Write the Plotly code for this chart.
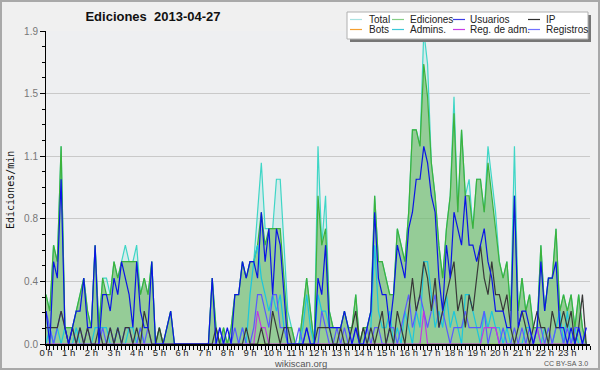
import plotly.graph_objects as go

# 10-minute buckets, values in edits/min (index i -> hour i/6)
hours = [f"{h} h" for h in range(24)]

total = [
    0.3, 0.2, 0.6, 0.5, 1.2, 0.1,
    0.1, 0.1, 0.2, 0.3, 0.4, 0.2,
    0.1, 0.6, 0.1, 0.4, 0.4, 0.3,
    0.5, 0.4, 0.5, 0.6, 0.5, 0.5,
    0.6, 0.3, 0.4, 0.3, 0.5, 0.0,
    0.1, 0.0, 0.1, 0.2, 0.0, 0.0,
    0.0, 0.0, 0.0, 0.0, 0.0, 0.0,
    0.0, 0.0, 0.4, 0.1, 0.0, 0.1,
    0.0, 0.1, 0.3, 0.3, 0.5, 0.4,
    0.5, 0.5, 0.8, 1.1, 0.7, 0.7,
    0.7, 1.0, 1.0, 0.6, 0.2, 0.1,
    0.0, 0.0, 0.2, 0.4, 0.2, 0.0,
    1.2, 0.6, 0.9, 0.2, 0.1, 0.1,
    0.1, 0.2, 0.1, 0.1, 0.3, 0.0,
    0.1, 0.1, 0.2, 0.9, 0.5, 0.5,
    0.4, 0.3, 0.3, 0.7, 0.6, 0.5,
    0.8, 1.3, 1.3, 1.2, 1.9, 1.7,
    1.1, 0.9, 0.6, 0.4, 0.7, 0.9,
    1.5, 0.8, 1.3, 0.9, 1.0, 0.7,
    1.0, 1.0, 0.8, 1.2, 1.0, 0.8,
    0.5, 0.4, 0.5, 0.2, 1.2, 0.2,
    0.4, 0.2, 0.3, 0.1, 0.1, 0.6,
    0.2, 0.4, 0.4, 0.7, 0.2, 0.3,
    0.2, 0.3, 0.1, 0.3, 0.1, 0.0,
]
ediciones = [
    0.3, 0.2, 0.6, 0.5, 1.2, 0.1,
    0.1, 0.1, 0.2, 0.3, 0.4, 0.2,
    0.1, 0.6, 0.1, 0.4, 0.3, 0.3,
    0.5, 0.4, 0.5, 0.5, 0.5, 0.5,
    0.5, 0.3, 0.4, 0.3, 0.5, 0.0,
    0.1, 0.0, 0.1, 0.2, 0.0, 0.0,
    0.0, 0.0, 0.0, 0.0, 0.0, 0.0,
    0.0, 0.0, 0.4, 0.1, 0.0, 0.1,
    0.0, 0.1, 0.3, 0.3, 0.5, 0.4,
    0.5, 0.5, 0.6, 0.8, 0.6, 0.7,
    0.7, 0.7, 0.7, 0.4, 0.1, 0.1,
    0.0, 0.0, 0.2, 0.4, 0.2, 0.0,
    0.9, 0.6, 0.7, 0.2, 0.1, 0.1,
    0.1, 0.2, 0.1, 0.1, 0.3, 0.0,
    0.1, 0.1, 0.2, 0.9, 0.5, 0.5,
    0.4, 0.3, 0.3, 0.7, 0.6, 0.5,
    0.8, 1.3, 1.3, 1.2, 1.7, 1.5,
    1.1, 0.9, 0.6, 0.4, 0.7, 0.9,
    1.4, 0.8, 1.3, 0.9, 0.9, 0.7,
    1.0, 1.0, 0.8, 1.1, 0.9, 0.7,
    0.5, 0.4, 0.5, 0.2, 0.9, 0.2,
    0.4, 0.2, 0.3, 0.1, 0.1, 0.6,
    0.2, 0.4, 0.4, 0.7, 0.2, 0.3,
    0.2, 0.3, 0.1, 0.3, 0.1, 0.0,
]
usuarios = [
    0.2, 0.0, 0.5, 0.4, 1.0, 0.1,
    0.0, 0.1, 0.2, 0.2, 0.4, 0.1,
    0.1, 0.6, 0.0, 0.3, 0.3, 0.2,
    0.4, 0.3, 0.5, 0.4, 0.3, 0.1,
    0.5, 0.2, 0.1, 0.1, 0.5, 0.0,
    0.0, 0.0, 0.1, 0.2, 0.0, 0.0,
    0.0, 0.0, 0.0, 0.0, 0.0, 0.0,
    0.0, 0.0, 0.4, 0.0, 0.1, 0.0,
    0.1, 0.0, 0.3, 0.3, 0.5, 0.4,
    0.5, 0.5, 0.4, 0.8, 0.5, 0.7,
    0.3, 0.7, 0.6, 0.3, 0.0, 0.0,
    0.0, 0.0, 0.0, 0.1, 0.0, 0.0,
    0.4, 0.3, 0.6, 0.1, 0.1, 0.1,
    0.1, 0.2, 0.1, 0.0, 0.1, 0.0,
    0.0, 0.1, 0.2, 0.8, 0.4, 0.3,
    0.3, 0.1, 0.3, 0.6, 0.5, 0.4,
    0.7, 0.8, 1.0, 1.0, 1.2, 1.1,
    0.9, 0.8, 0.4, 0.2, 0.6, 0.4,
    0.8, 0.7, 0.6, 0.9, 0.6, 0.6,
    0.5, 0.6, 0.7, 0.5, 0.4, 0.2,
    0.2, 0.2, 0.1, 0.1, 0.9, 0.1,
    0.2, 0.2, 0.1, 0.0, 0.1, 0.5,
    0.2, 0.4, 0.4, 0.5, 0.1, 0.1,
    0.0, 0.1, 0.0, 0.1, 0.0, 0.1,
]
ip = [
    0.1, 0.1, 0.1, 0.1, 0.2, 0.1,
    0.0, 0.1, 0.0, 0.1, 0.0, 0.1,
    0.0, 0.0, 0.1, 0.0, 0.0, 0.1,
    0.0, 0.1, 0.0, 0.1, 0.1, 0.0,
    0.1, 0.0, 0.2, 0.1, 0.0, 0.0,
    0.1, 0.0, 0.0, 0.0, 0.0, 0.0,
    0.0, 0.0, 0.0, 0.0, 0.0, 0.0,
    0.0, 0.0, 0.0, 0.1, 0.0, 0.0,
    0.0, 0.0, 0.0, 0.0, 0.0, 0.1,
    0.0, 0.0, 0.0, 0.1, 0.0, 0.0,
    0.2, 0.1, 0.0, 0.1, 0.1, 0.0,
    0.0, 0.0, 0.0, 0.0, 0.0, 0.0,
    0.1, 0.1, 0.1, 0.1, 0.0, 0.0,
    0.1, 0.0, 0.0, 0.1, 0.2, 0.0,
    0.1, 0.0, 0.1, 0.0, 0.1, 0.2,
    0.0, 0.1, 0.0, 0.2, 0.1, 0.0,
    0.2, 0.4, 0.2, 0.3, 0.5, 0.4,
    0.2, 0.4, 0.1, 0.2, 0.3, 0.4,
    0.5, 0.2, 0.3, 0.1, 0.3, 0.2,
    0.4, 0.6, 0.4, 0.3, 0.5, 0.3,
    0.3, 0.2, 0.3, 0.1, 0.0, 0.1,
    0.2, 0.1, 0.0, 0.1, 0.2, 0.1,
    0.1, 0.0, 0.2, 0.1, 0.1, 0.2,
    0.1, 0.2, 0.0, 0.1, 0.3, 0.0,
]
bots = [0.0] * 144
admins = [
    0.0, 0.1, 0.0, 0.1, 0.0, 0.1,
    0.0, 0.0, 0.1, 0.0, 0.0, 0.0,
    0.0, 0.1, 0.1, 0.1, 0.1, 0.0,
    0.0, 0.1, 0.0, 0.0, 0.1, 0.1,
    0.0, 0.1, 0.0, 0.0, 0.0, 0.0,
    0.0, 0.0, 0.0, 0.0, 0.0, 0.0,
    0.0, 0.0, 0.0, 0.0, 0.0, 0.0,
    0.0, 0.0, 0.0, 0.0, 0.0, 0.0,
    0.0, 0.0, 0.0, 0.0, 0.1, 0.0,
    0.3, 0.5, 0.6, 0.4, 0.3, 0.2,
    0.3, 0.2, 0.3, 0.1, 0.0, 0.0,
    0.0, 0.0, 0.1, 0.3, 0.1, 0.0,
    0.3, 0.2, 0.2, 0.1, 0.0, 0.0,
    0.0, 0.0, 0.0, 0.0, 0.0, 0.0,
    0.0, 0.0, 0.1, 0.6, 0.2, 0.1,
    0.1, 0.2, 0.0, 0.1, 0.0, 0.2,
    0.1, 0.0, 0.2, 0.1, 0.5, 0.5,
    0.3, 0.1, 0.2, 0.1, 0.3, 0.1,
    0.2, 0.1, 0.0, 0.3, 0.3, 0.2,
    0.1, 0.0, 0.2, 0.1, 0.2, 0.1,
    0.1, 0.0, 0.1, 0.0, 0.0, 0.0,
    0.0, 0.1, 0.1, 0.0, 0.1, 0.0,
    0.1, 0.0, 0.0, 0.1, 0.2, 0.0,
    0.2, 0.0, 0.1, 0.0, 0.0, 0.0,
]
reg_adm = [0.0] * 144
for _i, _v in [(56, 0.2), (57, 0.1), (58, 0.1), (100, 0.2),
               (116, 0.1), (117, 0.1), (118, 0.1), (119, 0.1), (130, 0.1)]:
    reg_adm[_i] = _v
registros = [
    0.2, 0.1, 0.0, 0.1, 0.2, 0.1,
    0.0, 0.1, 0.0, 0.1, 0.0, 0.1,
    0.0, 0.0, 0.0, 0.1, 0.0, 0.1,
    0.0, 0.1, 0.0, 0.1, 0.1, 0.0,
    0.0, 0.1, 0.0, 0.1, 0.0, 0.0,
    0.0, 0.0, 0.0, 0.0, 0.0, 0.0,
    0.0, 0.0, 0.0, 0.0, 0.0, 0.0,
    0.0, 0.0, 0.0, 0.0, 0.1, 0.0,
    0.0, 0.0, 0.1, 0.0, 0.1, 0.0,
    0.0, 0.1, 0.3, 0.3, 0.2, 0.1,
    0.3, 0.3, 0.1, 0.1, 0.0, 0.0,
    0.0, 0.1, 0.0, 0.1, 0.0, 0.0,
    0.0, 0.2, 0.1, 0.0, 0.0, 0.1,
    0.0, 0.1, 0.0, 0.0, 0.1, 0.0,
    0.0, 0.1, 0.0, 0.1, 0.1, 0.0,
    0.0, 0.1, 0.1, 0.0, 0.1, 0.2,
    0.3, 0.1, 0.2, 0.3, 0.2, 0.1,
    0.2, 0.3, 0.1, 0.2, 0.1, 0.0,
    0.1, 0.1, 0.1, 0.2, 0.1, 0.1,
    0.1, 0.1, 0.2, 0.0, 0.1, 0.1,
    0.0, 0.1, 0.0, 0.0, 0.1, 0.0,
    0.1, 0.0, 0.1, 0.0, 0.1, 0.1,
    0.0, 0.1, 0.0, 0.1, 0.1, 0.0,
    0.1, 0.0, 0.1, 0.1, 0.0, 0.1,
]

x = [i / 6 for i in range(144)]

FONT = "Liberation Sans, Arial, sans-serif"
fig = go.Figure()

def line(y, color, width=1.2, fill=None, fillcolor=None, name=""):
    fig.add_trace(go.Scatter(
        x=x, y=y, mode="lines", name=name, showlegend=False,
        line=dict(color=color, width=width),
        fill=fill, fillcolor=fillcolor, hoverinfo="skip"))

line(bots, "#f5a030", name="Bots")
line(total, "#3fd6c6", fill="tozeroy", fillcolor="rgba(64,214,198,0.14)", name="Total")
line(ediciones, "#3cb23c", fill="tozeroy", fillcolor="rgba(110,186,100,0.62)", name="Ediciones")
line(admins, "#1cc6dc", name="Admins.")
line(registros, "#5a5aff", name="Registros")
line(reg_adm, "#c03ae0", name="Reg. de adm.")
line(ip, "#383838", name="IP")
line(usuarios, "#0a14e6", name="Usuarios")

L, T, PW, PH = 46, 31, 544, 313
def px(xp):
    return (xp - L) / PW
def py(yp):
    return (T + PH - yp) / PH

shapes = [
    dict(type="rect", xref="paper", yref="paper", x0=px(1), x1=px(599), y0=py(369), y1=py(1),
         line=dict(color="#a9a9a9", width=2), fillcolor="rgba(0,0,0,0)", layer="above"),
    dict(type="rect", xref="paper", yref="paper", x0=px(350), x1=px(591), y0=py(42), y1=py(15),
         line=dict(width=0), fillcolor="#767676", layer="above"),
    dict(type="rect", xref="paper", yref="paper", x0=px(347), x1=px(588), y0=py(39), y1=py(12),
         line=dict(color="#b0b0b0", width=1), fillcolor="#ffffff", layer="above"),
]
legend_items = [
    ("Total", "#a8e2e2", 350, 367, 19.5),
    ("Ediciones", "#86cf86", 392, 408, 19.5),
    ("Usuarios", "#3c3ce6", 453, 468, 19.5),
    ("IP", "#303030", 528, 544, 19.5),
    ("Bots", "#f5a030", 350, 367, 29.5),
    ("Admins.", "#3cc8d8", 392, 408, 29.5),
    ("Reg. de adm.", "#c83ce6", 453, 468, 29.5),
    ("Registros", "#7272ff", 528, 544, 29.5),
]
annotations = []
for label, col, sx, tx, yy in legend_items:
    shapes.append(dict(type="line", xref="paper", yref="paper", x0=px(sx), x1=px(sx + 12),
                       y0=py(yy), y1=py(yy), line=dict(color=col, width=1.2), layer="above"))
    annotations.append(dict(text=label, xref="paper", yref="paper", x=px(tx), y=py(yy),
                            xanchor="left", yanchor="middle", showarrow=False,
                            font=dict(family=FONT, size=10, color="#222")))

annotations += [
    dict(text="wikiscan.org", xref="paper", yref="paper", x=px(300), y=py(363.5),
         xanchor="center", yanchor="middle", showarrow=False,
         font=dict(family=FONT, size=9.5, color="#555")),
    dict(text="CC BY-SA\u00a03.0", xref="paper", yref="paper", x=px(590), y=py(363.5),
         xanchor="right", yanchor="middle", showarrow=False,
         font=dict(family=FONT, size=7, color="#555")),
    dict(text="Ediciones/min", xref="paper", yref="paper", x=px(10), y=py(190),
         xanchor="center", yanchor="middle", showarrow=False, textangle=-90,
         font=dict(family="DejaVu Sans Mono, monospace", size=10, color="#111")),
]

ytv = [0, 0.38, 0.76, 1.14, 1.52, 1.9]
ytt = ["0.0", "0.4", "0.8", "1.1", "1.5", "1.9"]

fig.update_layout(
    width=600, height=370,
    margin=dict(l=L, r=600 - L - PW, t=T, b=370 - T - PH, autoexpand=False),
    paper_bgcolor="#f0f0f0", plot_bgcolor="#eeeff1",
    showlegend=False,
    title=dict(text="<b>Ediciones\u00a0\u00a02013-04-27</b>", x=153 / 600, xanchor="center",
               xref="container", y=1 - 16 / 370, yanchor="middle", yref="container",
               automargin=False,
               font=dict(family=FONT, size=13, color="#111")),
    xaxis=dict(range=[0, 24], tickmode="array", tickvals=list(range(24)), ticktext=hours,
               ticks="outside", ticklen=4, tickcolor="#000", tickwidth=1, automargin=False,
               ticklabelstandoff=-5,
               minor=dict(tickmode="linear", tick0=0, dtick=1 / 6, ticks="outside",
                          ticklen=4, tickcolor="#000", tickwidth=1),
               showline=True, linecolor="#000", linewidth=1.5, showgrid=False, zeroline=False,
               tickfont=dict(family=FONT, size=9.5, color="#222")),
    yaxis=dict(range=[0, 1.9], tickmode="array", tickvals=ytv, ticktext=ytt,
               ticks="outside", ticklen=5, tickcolor="#000", tickwidth=1, automargin=False,
               minor=dict(tickmode="linear", tick0=0, dtick=0.095, ticks="outside",
                          ticklen=3, tickcolor="#000", tickwidth=1, showgrid=False),
               showline=True, linecolor="#000", linewidth=1, showgrid=True,
               gridcolor="#c9c9c9", gridwidth=1, zeroline=False,
               tickfont=dict(family=FONT, size=10, color="#777")),
    shapes=shapes, annotations=annotations,
)

fig.write_html("out.html", config={"displayModeBar": False},
               post_script="document.body.style.margin='0';document.body.style.overflow='hidden';")
